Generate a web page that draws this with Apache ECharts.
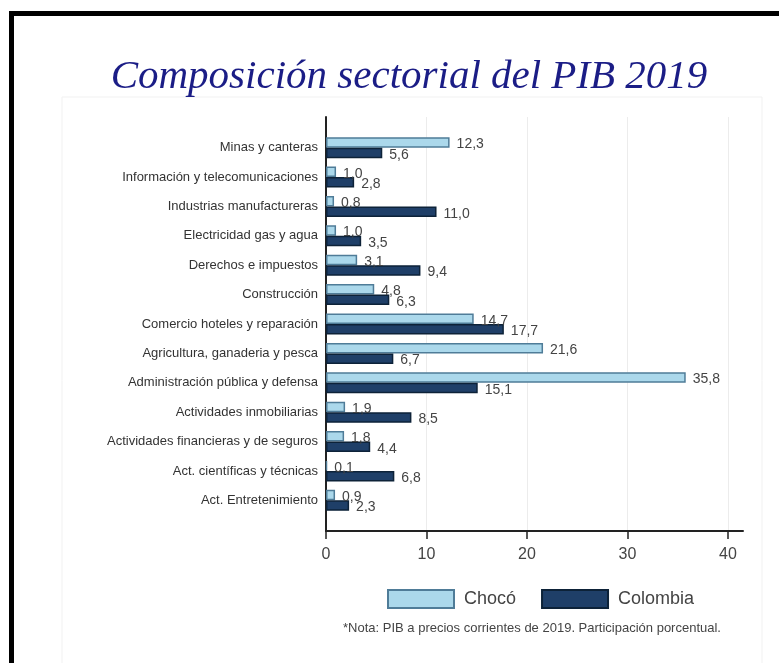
<!DOCTYPE html>
<html>
<head>
<meta charset="utf-8">
<script src="https://cdn.jsdelivr.net/npm/echarts@6/dist/echarts.min.js"></script>
<style>
  html, body { margin: 0; padding: 0; background: #fff; }
  #chart { width: 779px; height: 663px; }
</style>
</head>
<body>
<div id="chart"></div>
<script>
// sectores, de arriba hacia abajo
var sectores = [
  'Minas y canteras',
  'Información y telecomunicaciones',
  'Industrias manufactureras',
  'Electricidad gas y agua',
  'Derechos e impuestos',
  'Construcción',
  'Comercio hoteles y reparación',
  'Agricultura, ganaderia y pesca',
  'Administración pública y defensa',
  'Actividades inmobiliarias',
  'Actividades financieras y de seguros',
  'Act. científicas y técnicas',
  'Act. Entretenimiento'
];
var choco = [12.3, 1.0, 0.8, 1.0, 3.1, 4.8, 14.7, 21.6, 35.8, 1.9, 1.8, 0.1, 0.9];
var colombia = [5.6, 2.8, 11.0, 3.5, 9.4, 6.3, 17.7, 6.7, 15.1, 8.5, 4.4, 6.8, 2.3];
var xTicks = [0, 10, 20, 30, 40];

var titulo = 'Composición sectorial del PIB 2019';
var nota = '*Nota: PIB a precios corrientes de 2019. Participación porcentual.';

var myChart = echarts.init(document.getElementById('chart'));

function coma(p) {
  return p.value.toFixed(1).replace('.', ',');
}

myChart.setOption({
  animation: false,
  backgroundColor: '#fff',
  textStyle: { fontFamily: 'Liberation Sans, Arial, sans-serif' },
  graphic: [
    // panel claro
    { type: 'rect', shape: { x: 62, y: 97, width: 700, height: 600 },
      style: { fill: 'none', stroke: '#f1f1f1', lineWidth: 1 }, silent: true },
    // marco negro
    { type: 'rect', shape: { x: 9, y: 11, width: 5, height: 660 }, style: { fill: '#000' } },
    { type: 'rect', shape: { x: 9, y: 11, width: 780, height: 5 }, style: { fill: '#000' } },
    { type: 'text', x: 409, y: 98,
      style: { text: titulo, align: 'center', verticalAlign: 'bottom',
               font: 'italic 41px "Liberation Serif", "Times New Roman", serif', fill: '#1b1d86' } },
    { type: 'text', x: 532, y: 628,
      style: { text: nota, align: 'center', verticalAlign: 'middle',
               font: '13px "Liberation Sans", Arial, sans-serif', fill: '#444' } }
  ],
  legend: {
    left: 382,
    top: 584,
    itemWidth: 66,
    itemHeight: 18,
    itemGap: 25,
    icon: 'rect',
    data: ['Chocó', 'Colombia'],
    textStyle: { fontSize: 18, color: '#444', padding: [0, 0, 0, 5] }
  },
  grid: [
    { left: 326, right: 36, top: 117, bottom: 132 },
    { left: 326, right: 36, top: 133, bottom: 148 }
  ],
  xAxis: [
    {
      gridIndex: 0, type: 'value', min: 0, max: 41.5, interval: 10,
      axisLine: { show: true, lineStyle: { color: '#222', width: 2 } },
      axisTick: { show: true, length: 8, lineStyle: { color: '#222', width: 1.5 },
                  customValues: xTicks },
      axisLabel: { fontSize: 16, color: '#444', margin: 16, customValues: xTicks,
                   formatter: function (v) { return String(v); } },
      splitLine: { show: true, lineStyle: { color: '#ececec', width: 1 } }
    },
    {
      gridIndex: 1, type: 'value', min: 0, max: 41.5, interval: 10,
      axisLine: { show: false }, axisTick: { show: false },
      axisLabel: { show: false }, splitLine: { show: false }
    }
  ],
  yAxis: [
    {
      gridIndex: 0, type: 'value', min: 0, max: 1,
      axisLine: { show: true, lineStyle: { color: '#222', width: 2 } },
      axisTick: { show: false }, axisLabel: { show: false }, splitLine: { show: false }
    },
    {
      gridIndex: 1, type: 'category', inverse: true, data: sectores,
      axisLine: { show: false }, axisTick: { show: false },
      axisLabel: { fontSize: 13, color: '#333', margin: 8 }
    }
  ],
  series: [
    {
      name: 'Chocó', type: 'bar', xAxisIndex: 1, yAxisIndex: 1,
      data: choco, barWidth: 10.5, barGap: '0%',
      itemStyle: { color: '#abd8eb', borderColor: '#4f7c98', borderWidth: 1.5 },
      label: { show: true, position: 'right', distance: 7, offset: [0, 2],
               fontSize: 14, color: '#444', formatter: coma }
    },
    {
      name: 'Colombia', type: 'bar', xAxisIndex: 1, yAxisIndex: 1,
      data: colombia, barWidth: 10.5, barGap: '0%',
      itemStyle: { color: '#1f3f68', borderColor: '#0d2238', borderWidth: 1.5 },
      label: { show: true, position: 'right', distance: 7, offset: [0, 2],
               fontSize: 14, color: '#444', formatter: coma }
    }
  ]
});
</script>
</body>
</html>
